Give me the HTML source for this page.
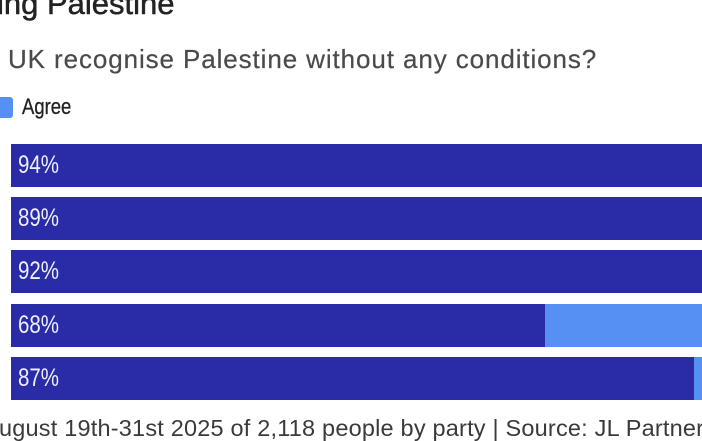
<!DOCTYPE html>
<html>
<head>
<meta charset="utf-8">
<style>
  html,body{margin:0;padding:0;}
  body{width:702px;height:432px;overflow:hidden;background:#fff;position:relative;font-family:"Liberation Sans",sans-serif;}
  .t{position:absolute;white-space:nowrap;}
  .title{left:-3px;top:-11px;font-size:31px;color:#222;line-height:30px;font-weight:normal;-webkit-text-stroke:0.5px #222;}
  .sub{left:8px;top:44px;font-size:26px;line-height:30px;color:#4a4a4a;letter-spacing:0.9px;-webkit-text-stroke:0.2px #4a4a4a;}
  .leg{position:absolute;left:-8px;top:97px;width:21px;height:21px;background:#5590f2;border-radius:3px;}
  .legt{left:22px;top:95px;font-size:22px;line-height:24px;color:#222;transform:scaleX(0.84);transform-origin:0 0;-webkit-text-stroke:0.3px #222;}
  .bar{position:absolute;left:11px;width:691px;height:43px;background:#2a2ba6;}
  .lb{position:absolute;top:0;bottom:0;right:0;background:#5590f2;}
  .pct{position:absolute;left:7px;top:8px;font-size:25px;line-height:26px;color:#eef0fa;transform:scaleX(0.82);transform-origin:0 0;}
  .foot{left:-1px;top:415px;font-size:23.5px;line-height:26px;color:#3a3a3a;letter-spacing:0.2px;}
</style>
</head>
<body>
<div class="t title">ing Palestine</div>
<div class="t sub">UK recognise Palestine without any conditions?</div>
<div class="leg"></div>
<div class="t legt">Agree</div>

<div class="bar" style="top:144px;"><div class="pct">94%</div></div>
<div class="bar" style="top:197px;"><div class="pct">89%</div></div>
<div class="bar" style="top:250px;"><div class="pct">92%</div></div>
<div class="bar" style="top:304px;"><div class="lb" style="left:534px;"></div><div class="pct">68%</div></div>
<div class="bar" style="top:357px;"><div class="lb" style="left:683px;"></div><div class="pct">87%</div></div>

<div class="t foot">ugust 19th-31st 2025 of 2,118 people by party | Source: JL Partners</div>
</body>
</html>
